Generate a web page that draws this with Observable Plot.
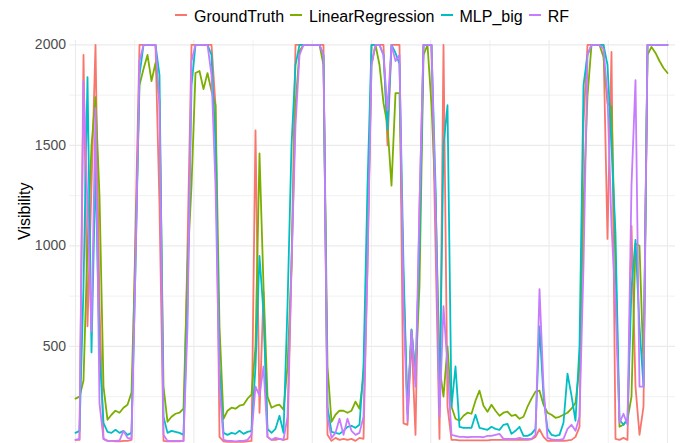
<!DOCTYPE html>
<html>
<head>
<meta charset="utf-8">
<script src="https://cdn.jsdelivr.net/npm/d3@7"></script>
<script src="https://cdn.jsdelivr.net/npm/@observablehq/plot@0.6"></script>
<style>
  html, body { margin: 0; padding: 0; background: #fff; overflow: hidden; }
  #wrap { position: relative; width: 680px; height: 443px; font-family: "Liberation Sans", Arial, Helvetica, sans-serif; }
  #legend { position: absolute; left: 69px; width: 606px; top: 8px; display: flex; justify-content: center; align-items: center; font-size: 16px; line-height: 18px; color: #000; z-index: 2; }
  .item { display: flex; align-items: center; margin: 0 3px; white-space: nowrap; }
  .key { width: 12px; height: 2px; margin-right: 7px; position: relative; top: -2px; }
  #chart { position: absolute; left: 0; top: 0; }
</style>
</head>
<body>
<div id="wrap">
  <div id="legend"></div>
  <div id="chart"></div>
</div>
<script>
// Model names and their line colours
const seriesNames = ["GroundTruth", "LinearRegression", "MLP_big", "RF"];
const seriesColors = ["#F8766D", "#7CAE00", "#00BFC4", "#C77CFF"];

// Visibility per time step (149 steps spread over 0..500)
const groundTruth = [
  35, 35, 1950, 600, 1300, 2000, 700, 40, 30, 30, 28, 28, 30, 30, 35,
  1100, 2000, 2000, 2000, 2000, 2000, 1200, 30, 28, 28, 28, 28, 30,
  1000, 2000, 2000, 2000, 2000, 2000, 2000, 1700, 50, 28, 25, 25, 25, 25, 25, 28, 30,
  1575, 170, 770, 50, 35, 35, 40, 35, 40, 900, 2000, 2000, 2000, 2000, 2000, 2000, 2000, 2000,
  60, 30, 45, 35, 40, 35, 40, 30, 45, 40, 900, 2000, 2000, 2000, 2000, 1500, 2000, 2000, 2000,
  117, 110, 545, 60, 1200, 2000, 2000, 2000, 1000, 40, 2000, 200, 35, 35,
  33, 33, 33, 33, 33, 33, 33, 33, 35, 35, 35, 35, 35, 35, 35, 35, 35, 35, 38, 50, 88, 50,
  30, 30, 30, 30, 30, 32, 35, 50, 100, 1610, 2000, 2000, 2000, 2000, 2000, 1035, 1965,
  40, 35, 45, 35, 1100, 300, 60, 200, 2000, 2000, 2000, 2000, 2000, 2000
];
const linearRegression = [
  240, 250, 330, 1000, 1500, 1740, 1250, 300, 135, 160, 180, 170, 195, 210, 270,
  1000, 1800, 1880, 1950, 1820, 1910, 1720, 300, 125, 150, 165, 170, 190,
  900, 1300, 1860, 1870, 1780, 1860, 1770, 1700, 600, 140, 180, 195, 190, 205, 210, 240, 260,
  500, 1460, 800, 250, 195, 205, 210, 185, 400, 900, 1700, 1970, 2000, 2000, 2000, 2000, 2000, 1900,
  400, 125, 160, 180, 180, 170, 180, 225, 190, 350, 1000, 1900, 2000, 1900, 1710, 1600, 1300, 1760, 1760,
  800, 195, 580, 355, 800, 1950, 2000, 1700, 1250, 400, 250, 500, 200, 140,
  130, 155, 170, 165, 230, 280, 205, 175, 210, 180, 155, 170, 175, 155, 160, 140, 150, 200, 240, 275, 280, 210,
  170, 160, 145, 150, 160, 170, 190, 220, 400, 1200, 1745, 2000, 2000, 2000, 1940, 1710, 1690,
  900, 100, 110, 135, 250, 1010, 1000, 400, 1950, 1990, 1960, 1920, 1885, 1860
];
const mlpBig = [
  70, 80, 800, 1840, 470, 1400, 470, 120, 75, 70, 85, 70, 80, 60, 70,
  900, 1850, 2000, 2000, 2000, 2000, 1850, 150, 70, 80, 75, 70, 60,
  700, 1800, 2000, 2000, 2000, 2000, 1950, 1500, 400, 70, 60, 70, 65, 80, 65, 75, 80,
  400, 950, 665, 90, 70, 90, 155, 70, 700, 1500, 1900, 2000, 2000, 2000, 2000, 2000, 2000, 1950,
  200, 75, 70, 65, 80, 100, 105, 95, 110, 400, 1300, 2000, 2000, 2000, 1950, 1580, 2000, 1960, 1905,
  900, 165, 585, 350, 1000, 2000, 2000, 2000, 1300, 200, 1500, 1700, 200, 400,
  100, 95, 95, 95, 160, 95, 90, 85, 100, 90, 85, 110, 115, 65, 80, 100, 55, 55, 65, 90, 600, 250,
  90, 60, 55, 60, 120, 365, 255, 130, 500, 1800, 1950, 2000, 2000, 2000, 2000, 1900, 1500,
  1060, 135, 110, 140, 790, 1030, 600, 300, 2000, 2000, 2000, 2000, 2000, 2000
];
const rf = [
  35, 40, 1820, 1200, 575, 1685, 215, 40, 30, 30, 30, 32, 80, 45, 40,
  900, 1920, 2000, 2000, 2000, 2000, 1700, 60, 30, 30, 30, 30, 30,
  600, 1920, 2000, 2000, 2000, 2000, 1850, 1300, 300, 35, 30, 30, 28, 30, 30, 35, 60,
  300, 255, 400, 50, 35, 45, 40, 35, 150, 900, 1600, 1950, 2000, 2000, 2000, 2000, 2000, 1950,
  150, 45, 70, 140, 60, 140, 80, 60, 70, 150, 900, 1900, 2000, 2000, 1950, 1675, 2000, 1920, 1950,
  700, 130, 580, 300, 1200, 2000, 2000, 2000, 1200, 150, 700, 400, 60, 55,
  50, 50, 48, 50, 50, 50, 48, 55, 55, 60, 65, 40, 40, 40, 40, 45, 40, 40, 40, 60, 785, 300,
  45, 38, 35, 35, 40, 90, 110, 80, 150, 900, 1950, 2000, 2000, 2000, 1980, 1745, 1100,
  715, 120, 165, 110, 1300, 1825, 300, 300, 2000, 2000, 2000, 2000, 2000, 2000
];
const seriesValues = [groundTruth, linearRegression, mlpBig, rf];

// Axis and grid positions
const yMajor = [500, 1000, 1500, 2000];
const yMinor = [250, 750, 1250, 1750];
const xMajor = [0, 100, 200, 300, 400, 500];
const xMinor = [50, 150, 250, 350, 450];
const yTitle = ["Visibility"];

// Long-format table: one row per series and time step
const stepSize = 500 / (groundTruth.length - 1);
const rows = [];
seriesNames.forEach((name, k) => {
  seriesValues[k].forEach((v, i) => rows.push({series: name, t: i * stepSize, v}));
});

const fontFamily = '"Liberation Sans", Arial, Helvetica, sans-serif';

const chart = Plot.plot({
  width: 680,
  height: 443,
  marginTop: 40,
  marginBottom: 0,
  marginLeft: 69,
  marginRight: 5,
  style: {fontFamily, background: "transparent", overflow: "visible"},
  x: {domain: [-5.07, 506.76], axis: null},
  y: {domain: [17, 2022], axis: null},
  color: {domain: seriesNames, range: seriesColors},
  marks: [
    Plot.ruleY(yMinor, {stroke: "#ebebeb", strokeWidth: 0.7}),
    Plot.ruleY(yMajor, {stroke: "#ebebeb", strokeWidth: 1.1}),
    Plot.ruleX(xMinor, {stroke: "#ebebeb", strokeWidth: 0.7}),
    Plot.ruleX(xMajor, {stroke: "#ebebeb", strokeWidth: 1.1}),
    Plot.axisY(yMajor, {tickSize: 0, tickPadding: 3.5, fontSize: 14, color: "#4d4d4d", label: null, tickFormat: d => String(d)}),
    Plot.line(rows, {x: "t", y: "v", z: "series", stroke: "series", strokeWidth: 1.8, strokeLinejoin: "round"}),
    Plot.text(yTitle, {text: d => d, frameAnchor: "left", rotate: -90, dx: -44.5, dy: -2, fontSize: 16, fill: "#000"})
  ]
});
document.getElementById("chart").appendChild(chart);

// Legend: short coloured strokes followed by the series name
const legend = document.getElementById("legend");
seriesNames.forEach((name, k) => {
  const item = document.createElement("div");
  item.className = "item";
  const key = document.createElement("span");
  key.className = "key";
  key.style.background = seriesColors[k];
  const label = document.createElement("span");
  label.textContent = name;
  item.appendChild(key);
  item.appendChild(label);
  legend.appendChild(item);
});
</script>
</body>
</html>
